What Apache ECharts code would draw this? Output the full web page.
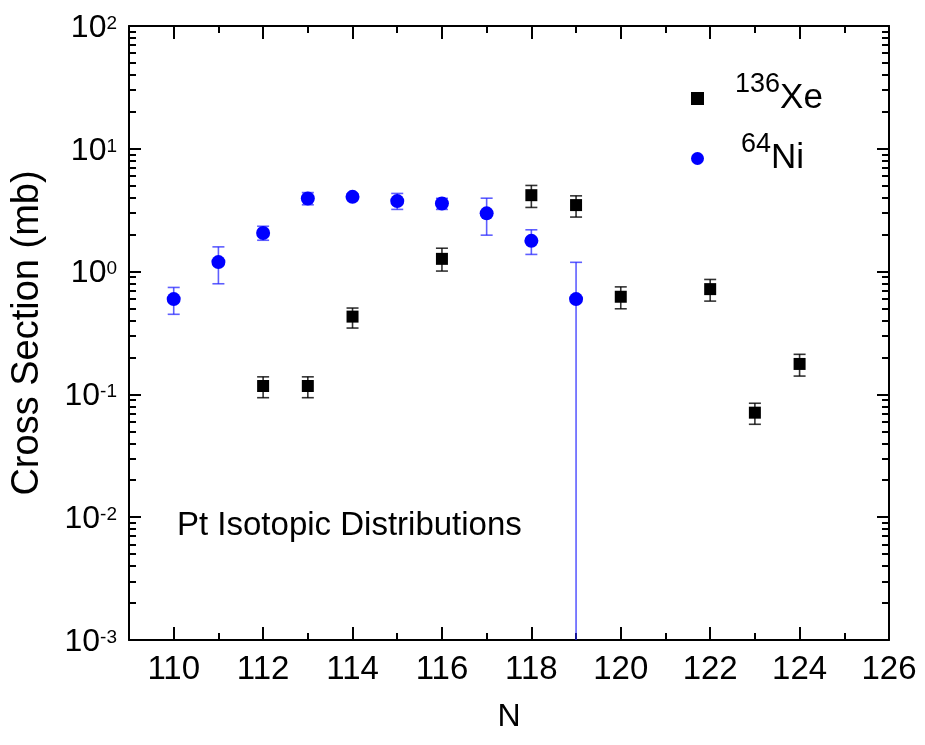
<!DOCTYPE html>
<html>
<head>
<meta charset="utf-8">
<script src="https://cdn.jsdelivr.net/npm/echarts@6/dist/echarts.min.js"></script>
<style>
  html, body { margin: 0; padding: 0; background: #fff; }
  #chart { width: 925px; height: 745px; }
</style>
</head>
<body>
<div id="chart"></div>
<script>
// 136Xe points (N, cross section in mb, lower / upper error bound)
const xeN = [112, 113, 114, 116, 118, 119, 120, 122, 123, 124]
const xeVal = [0.117, 0.117, 0.43, 1.27, 4.19, 3.48, 0.624, 0.72, 0.071, 0.177]
const xeLow = [0.094, 0.094, 0.347, 1.01, 3.33, 2.78, 0.498, 0.575, 0.0571, 0.141]
const xeHigh = [0.139, 0.139, 0.505, 1.55, 5.03, 4.14, 0.751, 0.863, 0.0847, 0.212]

// 64Ni points
const niN = [110, 111, 112, 113, 114, 115, 116, 117, 118, 119]
const niVal = [0.597, 1.195, 2.06, 3.94, 4.06, 3.75, 3.59, 2.98, 1.78, 0.597]
const niLow = [0.449, 0.796, 1.80, 3.5, 3.85, 3.21, 3.21, 1.98, 1.38, 0.0001]
const niHigh = [0.743, 1.59, 2.34, 4.4, 4.3, 4.33, 3.95, 3.96, 2.19, 1.19]

// tick values
const xMajor = [110, 112, 114, 116, 118, 120, 122, 124, 126]
const xMinor = [109, 111, 113, 115, 117, 119, 121, 123, 125]
const yMinor = []
;[0.001, 0.01, 0.1, 1, 10].forEach(d => {
  for (let k = 2; k <= 9; k++) yMinor.push(+(k * d).toPrecision(3))
})

const font = '"Liberation Sans", Arial, sans-serif'
const black = '#000'

const chart = echarts.init(document.getElementById('chart'))

function errorBar (color) {
  return function (params, api) {
    const x = api.value(0)
    const hi = api.coord([x, api.value(2)])
    const lo = api.coord([x, api.value(1)])
    const cs = params.coordSys
    const bottom = cs.y + cs.height
    const w = 6
    const style = { stroke: color, lineWidth: 1.6 }
    const children = [
      { type: 'line', shape: { x1: hi[0], y1: hi[1], x2: hi[0], y2: Math.min(lo[1], bottom) }, style },
      { type: 'line', shape: { x1: hi[0] - w, y1: hi[1], x2: hi[0] + w, y2: hi[1] }, style }
    ]
    if (lo[1] <= bottom) {
      children.push({ type: 'line', shape: { x1: lo[0] - w, y1: lo[1], x2: lo[0] + w, y2: lo[1] }, style })
    }
    return { type: 'group', children }
  }
}

const tickLine = { color: black, width: 2 }

// frame axis helpers
function xFrame (position, ticks, len, withLine) {
  return {
    type: 'value',
    position,
    min: 109,
    max: 126,
    axisLine: { show: withLine, onZero: false, lineStyle: tickLine },
    axisTick: { show: true, inside: true, length: len, lineStyle: tickLine, customValues: ticks },
    axisLabel: { show: false },
    splitLine: { show: false }
  }
}
function yFrame (position, ticks, len, withLine) {
  const axis = {
    type: 'log',
    logBase: 10,
    position,
    min: 0.001,
    max: 100,
    axisLine: { show: withLine, onZero: false, lineStyle: tickLine },
    axisTick: { show: true, inside: true, length: len, lineStyle: tickLine },
    axisLabel: { show: false },
    splitLine: { show: false }
  }
  if (ticks) axis.axisTick.customValues = ticks
  else axis.interval = 1
  return axis
}

const option = {
  animation: false,
  textStyle: { fontFamily: font },
  grid: { left: 129, right: 36, top: 26, bottom: 105 },
  legend: {
    orient: 'vertical',
    left: 686,
    top: 64,
    itemGap: 1,
    itemWidth: 13,
    itemHeight: 13,
    selectedMode: false,
    data: [
      { name: 'Xe', icon: 'rect' },
      { name: 'Ni', icon: 'circle' }
    ],
    formatter: name => name === 'Xe' ? '{s|136}{b|Xe}' : '{t|64}{b|Ni}',
    textStyle: {
      fontFamily: font,
      color: black,
      rich: {
        s: { fontSize: 27, lineHeight: 28, padding: [0, 0, 28, 26], fontFamily: font, color: black },
        t: { fontSize: 27, lineHeight: 28, padding: [0, 0, 28, 32], fontFamily: font, color: black },
        b: { fontSize: 35, lineHeight: 36, padding: [12, 0, 12, 0], fontFamily: font, color: black }
      }
    }
  },
  xAxis: [
    {
      type: 'value',
      position: 'bottom',
      min: 109,
      max: 126,
      name: 'N',
      nameLocation: 'middle',
      nameGap: 61,
      nameTextStyle: { fontSize: 32, color: black, fontFamily: font },
      axisLine: { show: true, onZero: false, lineStyle: tickLine },
      axisTick: { show: true, inside: true, length: 13, lineStyle: tickLine, customValues: xMajor },
      axisLabel: { fontSize: 33, color: black, margin: 13, fontFamily: font, customValues: xMajor },
      splitLine: { show: false }
    },
    xFrame('bottom', xMinor, 7, false),
    xFrame('top', xMajor, 13, true),
    xFrame('top', xMinor, 7, false)
  ],
  yAxis: [
    {
      type: 'log',
      logBase: 10,
      position: 'left',
      min: 0.001,
      max: 100,
      interval: 1,
      name: 'Cross Section (mb)',
      nameLocation: 'middle',
      nameGap: 82,
      nameTextStyle: { fontSize: 38, color: black, fontFamily: font },
      axisLine: { show: true, onZero: false, lineStyle: tickLine },
      axisTick: { show: true, inside: true, length: 12, lineStyle: tickLine },
      axisLabel: {
        margin: 12,
        formatter: v => '{b|10}{s|' + Math.round(Math.log10(v)) + '}',
        rich: {
          b: { fontSize: 32, lineHeight: 32, padding: [10, 0, 6, 0], color: black, fontFamily: font },
          s: { fontSize: 19, lineHeight: 20, verticalAlign: 'top', padding: [4, 0, 0, 0], color: black, fontFamily: font }
        }
      },
      splitLine: { show: false }
    },
    yFrame('left', yMinor, 7, false),
    yFrame('right', null, 12, true),
    yFrame('right', yMinor, 7, false)
  ],
  graphic: [
    {
      type: 'text',
      left: 177,
      top: 509,
      style: { text: 'Pt Isotopic Distributions', fontSize: 33, fill: black, fontFamily: font }
    }
  ],
  series: [
    {
      type: 'custom',
      name: 'XeErr',
      renderItem: errorBar('rgba(0,0,0,0.8)'),
      data: xeN.map((n, i) => [n, xeLow[i], xeHigh[i]]),
      z: 1,
      silent: true
    },
    {
      type: 'custom',
      name: 'NiErr',
      renderItem: errorBar('rgba(40,40,255,0.75)'),
      data: niN.map((n, i) => [n, niLow[i], niHigh[i]]),
      z: 1,
      silent: true
    },
    {
      type: 'scatter',
      name: 'Xe',
      symbol: 'rect',
      symbolSize: 12,
      itemStyle: { color: black, opacity: 1 },
      data: xeN.map((n, i) => [n, xeVal[i]]),
      z: 3
    },
    {
      type: 'scatter',
      name: 'Ni',
      symbol: 'circle',
      symbolSize: 14,
      itemStyle: { color: '#0000ff', opacity: 1 },
      data: niN.map((n, i) => [n, niVal[i]]),
      z: 3
    }
  ]
}

chart.setOption(option)
</script>
</body>
</html>
